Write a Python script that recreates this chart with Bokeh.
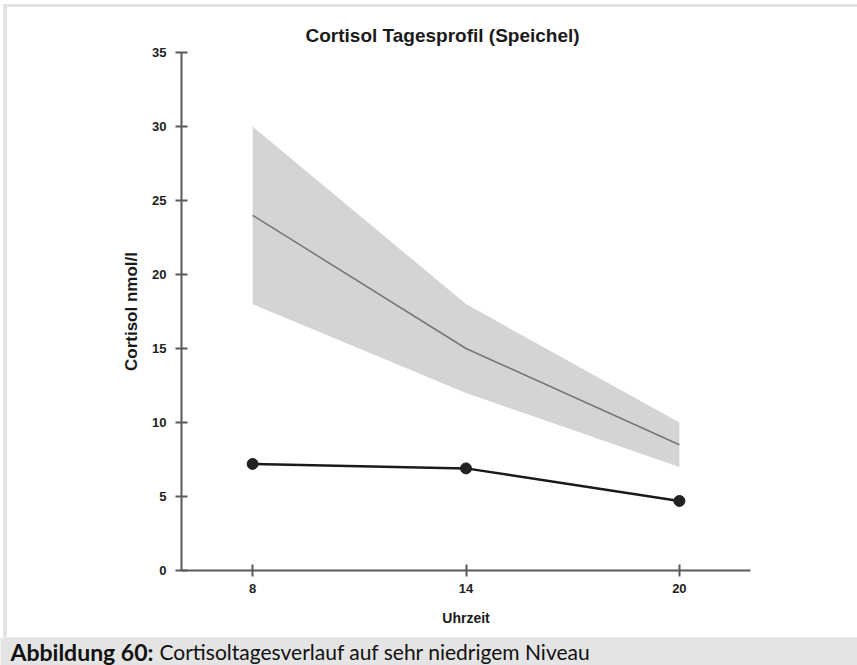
from bokeh.plotting import figure
from bokeh.layouts import column
from bokeh.models import Label, FixedTicker
from bokeh.embed import file_html
from bokeh.resources import INLINE

# ---- data ----
hours = [8, 14, 20]
ref_mean = [24, 15, 8.5]
ref_low = [18, 12, 7]
ref_high = [30, 18, 10]
patient = [7.2, 6.9, 4.7]
y_ticks = [0, 5, 10, 15, 20, 25, 30, 35]

title_text = "Cortisol Tagesprofil (Speichel)"
x_label = "Uhrzeit"
y_label = "Cortisol nmol/l"
caption_bold = "Abbildung 60:"
caption_text = "Cortisoltagesverlauf auf sehr niedrigem Niveau"

W = 850
H1 = 630
ML = 174   # left border of main plot
MR = 107   # right border of main plot

p = figure(width=W, height=H1, x_range=(6, 22), y_range=(0, 35),
           toolbar_location=None, output_backend="svg",
           min_border_left=ML, min_border_right=MR,
           min_border_top=45, min_border_bottom=H1 - 563,
           title=title_text)
p.outline_line_color = None
p.xgrid.visible = False
p.ygrid.visible = False
p.background_fill_color = "white"
p.border_fill_color = "white"

p.title.text_font = "Liberation Sans"
p.title.text_font_style = "bold"
p.title.text_font_size = "19px"
p.title.text_color = "#1a1a1a"
p.title.align = "left"
p.title.offset = 124
p.title.vertical_align = "top"
p.title.standoff = 10

for ax in (p.xaxis[0], p.yaxis[0]):
    ax.axis_line_color = "#5a5a5a"
    ax.axis_line_width = 2
    ax.major_tick_line_color = "#5a5a5a"
    ax.major_tick_line_width = 2
    ax.major_tick_in = 6
    ax.major_tick_out = 6
    ax.minor_tick_line_color = None
    ax.major_label_text_font = "Liberation Sans"
    ax.major_label_text_font_style = "bold"
    ax.major_label_text_font_size = "13px"
    ax.major_label_text_color = "#222222"
    ax.axis_label_text_font = "Liberation Sans"
    ax.axis_label_text_font_style = "bold"
    ax.axis_label_text_color = "#1a1a1a"

p.yaxis[0].ticker = FixedTicker(ticks=y_ticks)
p.xaxis[0].ticker = FixedTicker(ticks=hours)
p.yaxis[0].axis_label = y_label
p.xaxis[0].axis_label = x_label
p.yaxis[0].axis_label_text_font_size = "17px"
p.xaxis[0].axis_label_text_font_size = "14px"
p.yaxis[0].major_label_standoff = 9
p.yaxis[0].axis_label_standoff = 8
p.xaxis[0].major_label_standoff = 7
p.xaxis[0].axis_label_standoff = 14

# reference band and mean
p.varea(x=hours, y1=ref_low, y2=ref_high, fill_color="#d4d4d4")
p.line(hours, ref_mean, line_color="#757575", line_width=1.5)

# patient values
p.line(hours, patient, line_color="#1a1a1a", line_width=2.5)
p.scatter(hours, patient, size=11, fill_color="#222222", line_color="#222222")

main = column(p, spacing=0, margin=(4, 0, 0, 3),
              styles={"border-top": "3px solid #e3e3e3",
                      "border-left": "4px solid #e3e3e3"})

# caption strip (separate root so its frame spans the whole strip)
CW = 857
CH = 28
c = figure(width=CW, height=CH, x_range=(0, 1), y_range=(0, 1),
           toolbar_location=None, output_backend="svg", min_border=0,
           x_axis_type=None, y_axis_type=None)
c.outline_line_color = None
c.xgrid.visible = False
c.ygrid.visible = False
c.background_fill_color = "#e4e4e4"
c.border_fill_color = "#e4e4e4"
c.add_layout(Label(x=10, y=CH / 2, x_units="screen", y_units="screen",
                   text=caption_bold, text_font="Lato", text_font_style="bold",
                   text_font_size="23px", text_baseline="middle", text_color="#111111"))
c.add_layout(Label(x=159, y=CH / 2, x_units="screen", y_units="screen",
                   text=caption_text, text_font="Lato",
                   text_font_size="21px", text_baseline="middle", text_color="#111111"))

open("out.html", "w").write(file_html([main, c], INLINE))
